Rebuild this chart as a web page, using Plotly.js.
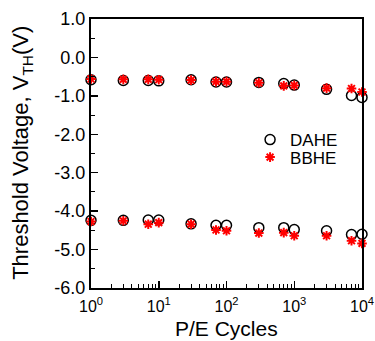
<!DOCTYPE html>
<html><head><meta charset="utf-8">
<script src="https://cdn.plot.ly/plotly-3.0.1.min.js"></script>
<style>html,body{margin:0;padding:0;background:#fff}#c{width:375px;height:341px}</style>
</head><body><div id="c"></div>
<script>
const cycles = [1, 3, 7, 10, 30, 70, 100, 300, 700, 1000, 3000, 7000, 10000];
const daheUpper = [-0.58, -0.60, -0.60, -0.61, -0.58, -0.64, -0.64, -0.65, -0.68, -0.72, -0.83, -0.99, -1.04];
const bbheUpper = [-0.56, -0.57, -0.57, -0.58, -0.59, -0.63, -0.63, -0.66, -0.74, -0.73, -0.80, -0.81, -0.90];
const daheLower = [-4.24, -4.24, -4.23, -4.23, -4.33, -4.37, -4.37, -4.43, -4.43, -4.48, -4.51, -4.61, -4.60];
const bbheLower = [-4.27, -4.25, -4.34, -4.30, -4.34, -4.49, -4.51, -4.57, -4.56, -4.64, -4.64, -4.77, -4.84];
const yTickVals = [1, 0, -1, -2, -3, -4, -5, -6];
const yTickText = ['1.0', '0.0', '-1.0', '-2.0', '-3.0', '-4.0', '-5.0', '-6.0'];
const xTickVals = [1, 10, 100, 1000, 10000];
const xTickText = ['10<sup>0</sup>', '10<sup>1</sup>', '10<sup>2</sup>', '10<sup>3</sup>', '10<sup>4</sup>'];
const yTitle = 'Threshold Voltage, V<sub>TH</sub>(V)';
const xTitle = 'P/E Cycles';

const dMarker = {symbol: 'circle-open', size: 10, color: '#000', line: {width: 1.5, color: '#000'}};
const bMarker = {symbol: 'asterisk-open', size: 8, color: '#ff0000', line: {width: 2, color: '#ff0000'}};
const data = [
  {x: cycles, y: daheUpper, mode: 'markers', type: 'scatter', name: 'DAHE', marker: dMarker, legendgroup: 'd', legend: 'legend', cliponaxis: false},
  {x: cycles, y: daheLower, mode: 'markers', type: 'scatter', name: 'DAHE', marker: dMarker, legendgroup: 'd', showlegend: false, cliponaxis: false},
  {x: cycles, y: bbheUpper, mode: 'markers', type: 'scatter', name: 'BBHE', marker: bMarker, legendgroup: 'b', legend: 'legend2', cliponaxis: false},
  {x: cycles, y: bbheLower, mode: 'markers', type: 'scatter', name: 'BBHE', marker: bMarker, legendgroup: 'b', showlegend: false, cliponaxis: false}
];
const ff = 'Liberation Sans, Arial, sans-serif';
const legFont = {size: 17, family: ff, color: '#000'};
const layout = {
  width: 375, height: 341,
  margin: {l: 91, r: 13, t: 19, b: 53},
  paper_bgcolor: '#fff', plot_bgcolor: '#fff',
  font: {family: ff, color: '#000'},
  showlegend: true,
  legend: {x: 0.587, y: 0.550, xanchor: 'left', yanchor: 'middle', bgcolor: 'rgba(0,0,0,0)', font: legFont},
  legend2: {x: 0.587, y: 0.485, xanchor: 'left', yanchor: 'middle', bgcolor: 'rgba(0,0,0,0)', font: legFont},
  xaxis: {
    type: 'log', range: [0, 4],
    tickvals: xTickVals, ticktext: xTickText,
    ticks: 'inside', ticklen: 7, tickwidth: 1.5, tickcolor: '#000',
    minor: {ticks: 'inside', ticklen: 4, tickwidth: 1, tickcolor: '#000', dtick: 'D1'},
    showline: true, linewidth: 2, linecolor: '#000', mirror: true,
    showgrid: false, zeroline: false,
    ticklabelstandoff: 3,
    tickfont: {size: 16, family: ff, color: '#000'}
  },
  yaxis: {
    range: [-6, 1],
    tickvals: yTickVals, ticktext: yTickText,
    ticks: 'inside', ticklen: 7, tickwidth: 1.5, tickcolor: '#000',
    minor: {ticks: 'inside', ticklen: 4, tickwidth: 1, tickcolor: '#000', dtick: 0.5},
    showline: true, linewidth: 2, linecolor: '#000', mirror: true,
    showgrid: false, zeroline: false,
    tickfont: {size: 18, family: ff, color: '#000'}
  },
  annotations: [
    {text: yTitle, xref: 'paper', yref: 'paper', x: -0.255, y: 0.502, xanchor: 'center', yanchor: 'middle', textangle: -90, showarrow: false, font: {size: 22, family: ff, color: '#000'}},
    {text: xTitle, xref: 'paper', yref: 'paper', x: 0.5, y: -0.197, xanchor: 'center', yanchor: 'bottom', showarrow: false, borderpad: 0, font: {size: 21, family: ff, color: '#000'}}
  ]
};
Plotly.newPlot('c', data, layout, {displayModeBar: false, staticPlot: true});
</script></body></html>
